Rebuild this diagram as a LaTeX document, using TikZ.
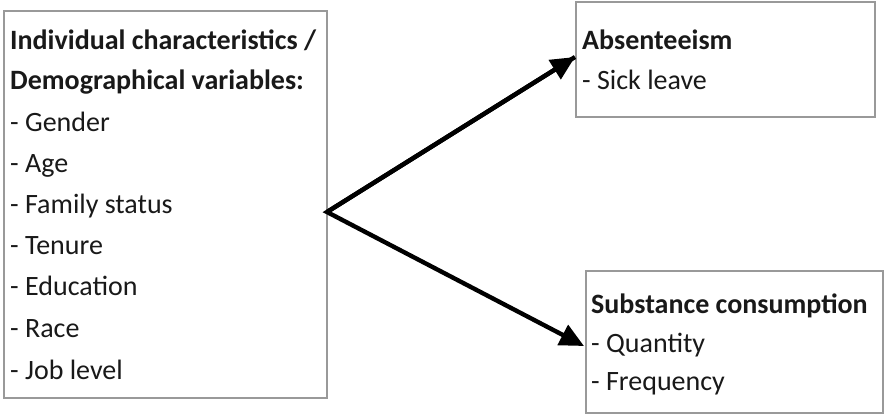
\documentclass[tikz,border=0pt]{standalone}
\usepackage{fontspec}
\setmainfont{Carlito}
\usetikzlibrary{arrows.meta}
\begin{document}
\begin{tikzpicture}[x=1pt,y=-1pt,
  boxframe/.style={draw=black!40,line width=1.6pt},
  txt/.style={anchor=base west,inner sep=0pt,font=\fontsize{28}{32}\selectfont,text=black!90},
  hd/.style={txt,font=\fontsize{28}{32}\selectfont\bfseries},
  arr/.style={line width=4.4pt,-{Triangle[length=24pt,width=22pt]}}]
\useasboundingbox (0,0) rectangle (885,416);
\fill[white] (0,0) rectangle (885,416);
% boxes
\draw[boxframe] (4,11) rectangle (327,398);
\draw[boxframe] (576,2) rectangle (875,117);
\draw[boxframe] (586,271) rectangle (883,413);
% left text
\node[hd] (l1) at (10,49) {Individual characteristics /};
\node[hd] (l2) at (10,89) {Demographical variables:};
\node[txt] (l3) at (10,131) {- Gender};
\node[txt] (l4) at (10,172) {- Age};
\node[txt] (l5) at (10,213) {- Family status};
\node[txt] (l6) at (10,254) {- Tenure};
\node[txt] (l7) at (10,295) {- Education};
\node[txt] (l8) at (10,337) {- Race};
\node[txt] (l9) at (10,379) {- Job level};
% top right
\node[hd] (a1) at (582,49) {Absenteeism};
\node[txt] (a2) at (582,89) {- Sick leave};
% bottom right
\node[hd] (s1) at (591,313) {Substance consumption};
\node[txt] (s2) at (591,352) {- Quantity};
\node[txt] (s3) at (591,390) {- Frequency};
% arrows
\coordinate (src) at (327,212);
\coordinate (t1) at (575,57);
\coordinate (t2) at (584,346);
\draw[arr,line join=miter] (t1) -- (src) -- (t2);
\draw[arr] (src) -- (t1);
\end{tikzpicture}
\end{document}
